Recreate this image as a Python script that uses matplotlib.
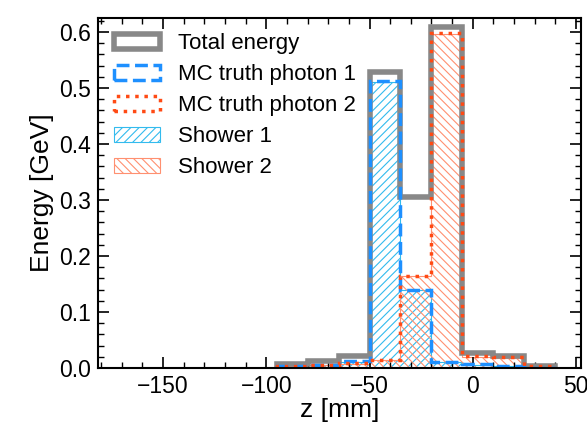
import numpy as np
import matplotlib
matplotlib.use("Agg")
import matplotlib.pyplot as plt
from matplotlib.ticker import MultipleLocator

plt.rcParams['font.family'] = ['Liberation Sans', 'DejaVu Sans']
plt.rcParams['hatch.linewidth'] = 0.8

# bin edges along z [mm]
edges = [-95, -80, -65, -50, -35, -20, -5, 10, 25, 40]
total = [0.007, 0.012, 0.021, 0.528, 0.306, 0.609, 0.027, 0.022, 0.004]
photon1 = [0.003, 0.005, 0.012, 0.513, 0.140, 0.011, 0.007, 0.004, 0.001]
photon2 = [0.004, 0.006, 0.009, 0.015, 0.165, 0.598, 0.021, 0.019, 0.004]
shower1 = [0.003, 0.005, 0.011, 0.511, 0.139, 0.010, 0.006, 0.003, 0.001]
shower2 = [0.003, 0.005, 0.008, 0.014, 0.164, 0.596, 0.020, 0.018, 0.003]

centers = 0.5 * (np.array(edges[:-1]) + np.array(edges[1:]))

fig = plt.figure(figsize=(5.87, 4.26), dpi=100)
ax = fig.add_axes([0.167, 0.136, 0.823, 0.822])

ax.hist(centers, bins=edges, weights=total, histtype='step', color='#888888',
        lw=4, label='Total energy')
ax.hist(centers, bins=edges, weights=shower1, histtype='stepfilled', fill=False,
        hatch='////', edgecolor='#33bbee', lw=0.8, label='Shower 1')
ax.hist(centers, bins=edges, weights=shower2, histtype='stepfilled', fill=False,
        hatch='\\\\\\\\', edgecolor='#ff9070', lw=0.8, label='Shower 2')
ax.hist(centers, bins=edges, weights=photon1, histtype='step', color='#1e90ff',
        lw=2.5, ls='--', label='MC truth photon 1')
ax.hist(centers, bins=edges, weights=photon2, histtype='step', color='#ff4a14',
        lw=2.5, ls=':', label='MC truth photon 2')

ax.set_xlim(-181.5, 52.5)
ax.set_ylim(0, 0.625)
ax.xaxis.set_major_locator(MultipleLocator(50))
ax.xaxis.set_minor_locator(MultipleLocator(10))
ax.yaxis.set_major_locator(MultipleLocator(0.1))
ax.yaxis.set_minor_locator(MultipleLocator(0.02))
ax.tick_params(which='both', direction='in', top=True, right=True, labelsize=16.5)
ax.tick_params(which='major', length=8, width=1.2, pad=5)
ax.tick_params(which='minor', length=4, width=1)
for s in ax.spines.values():
    s.set_linewidth(1.5)

ax.set_xlabel('z [mm]', fontsize=19, labelpad=0)
ax.set_ylabel('Energy [GeV]', fontsize=19, labelpad=4)

handles, labels = ax.get_legend_handles_labels()
order = ['Total energy', 'MC truth photon 1', 'MC truth photon 2', 'Shower 1', 'Shower 2']
hmap = dict(zip(labels, handles))
ax.legend([hmap[k] for k in order], order, loc='upper left', frameon=False,
          fontsize=16, handlelength=2.1, handleheight=0.7, handletextpad=0.8,
          labelspacing=0.45, borderaxespad=0.4, borderpad=0.3)

fig.savefig('out.png', dpi=100)
